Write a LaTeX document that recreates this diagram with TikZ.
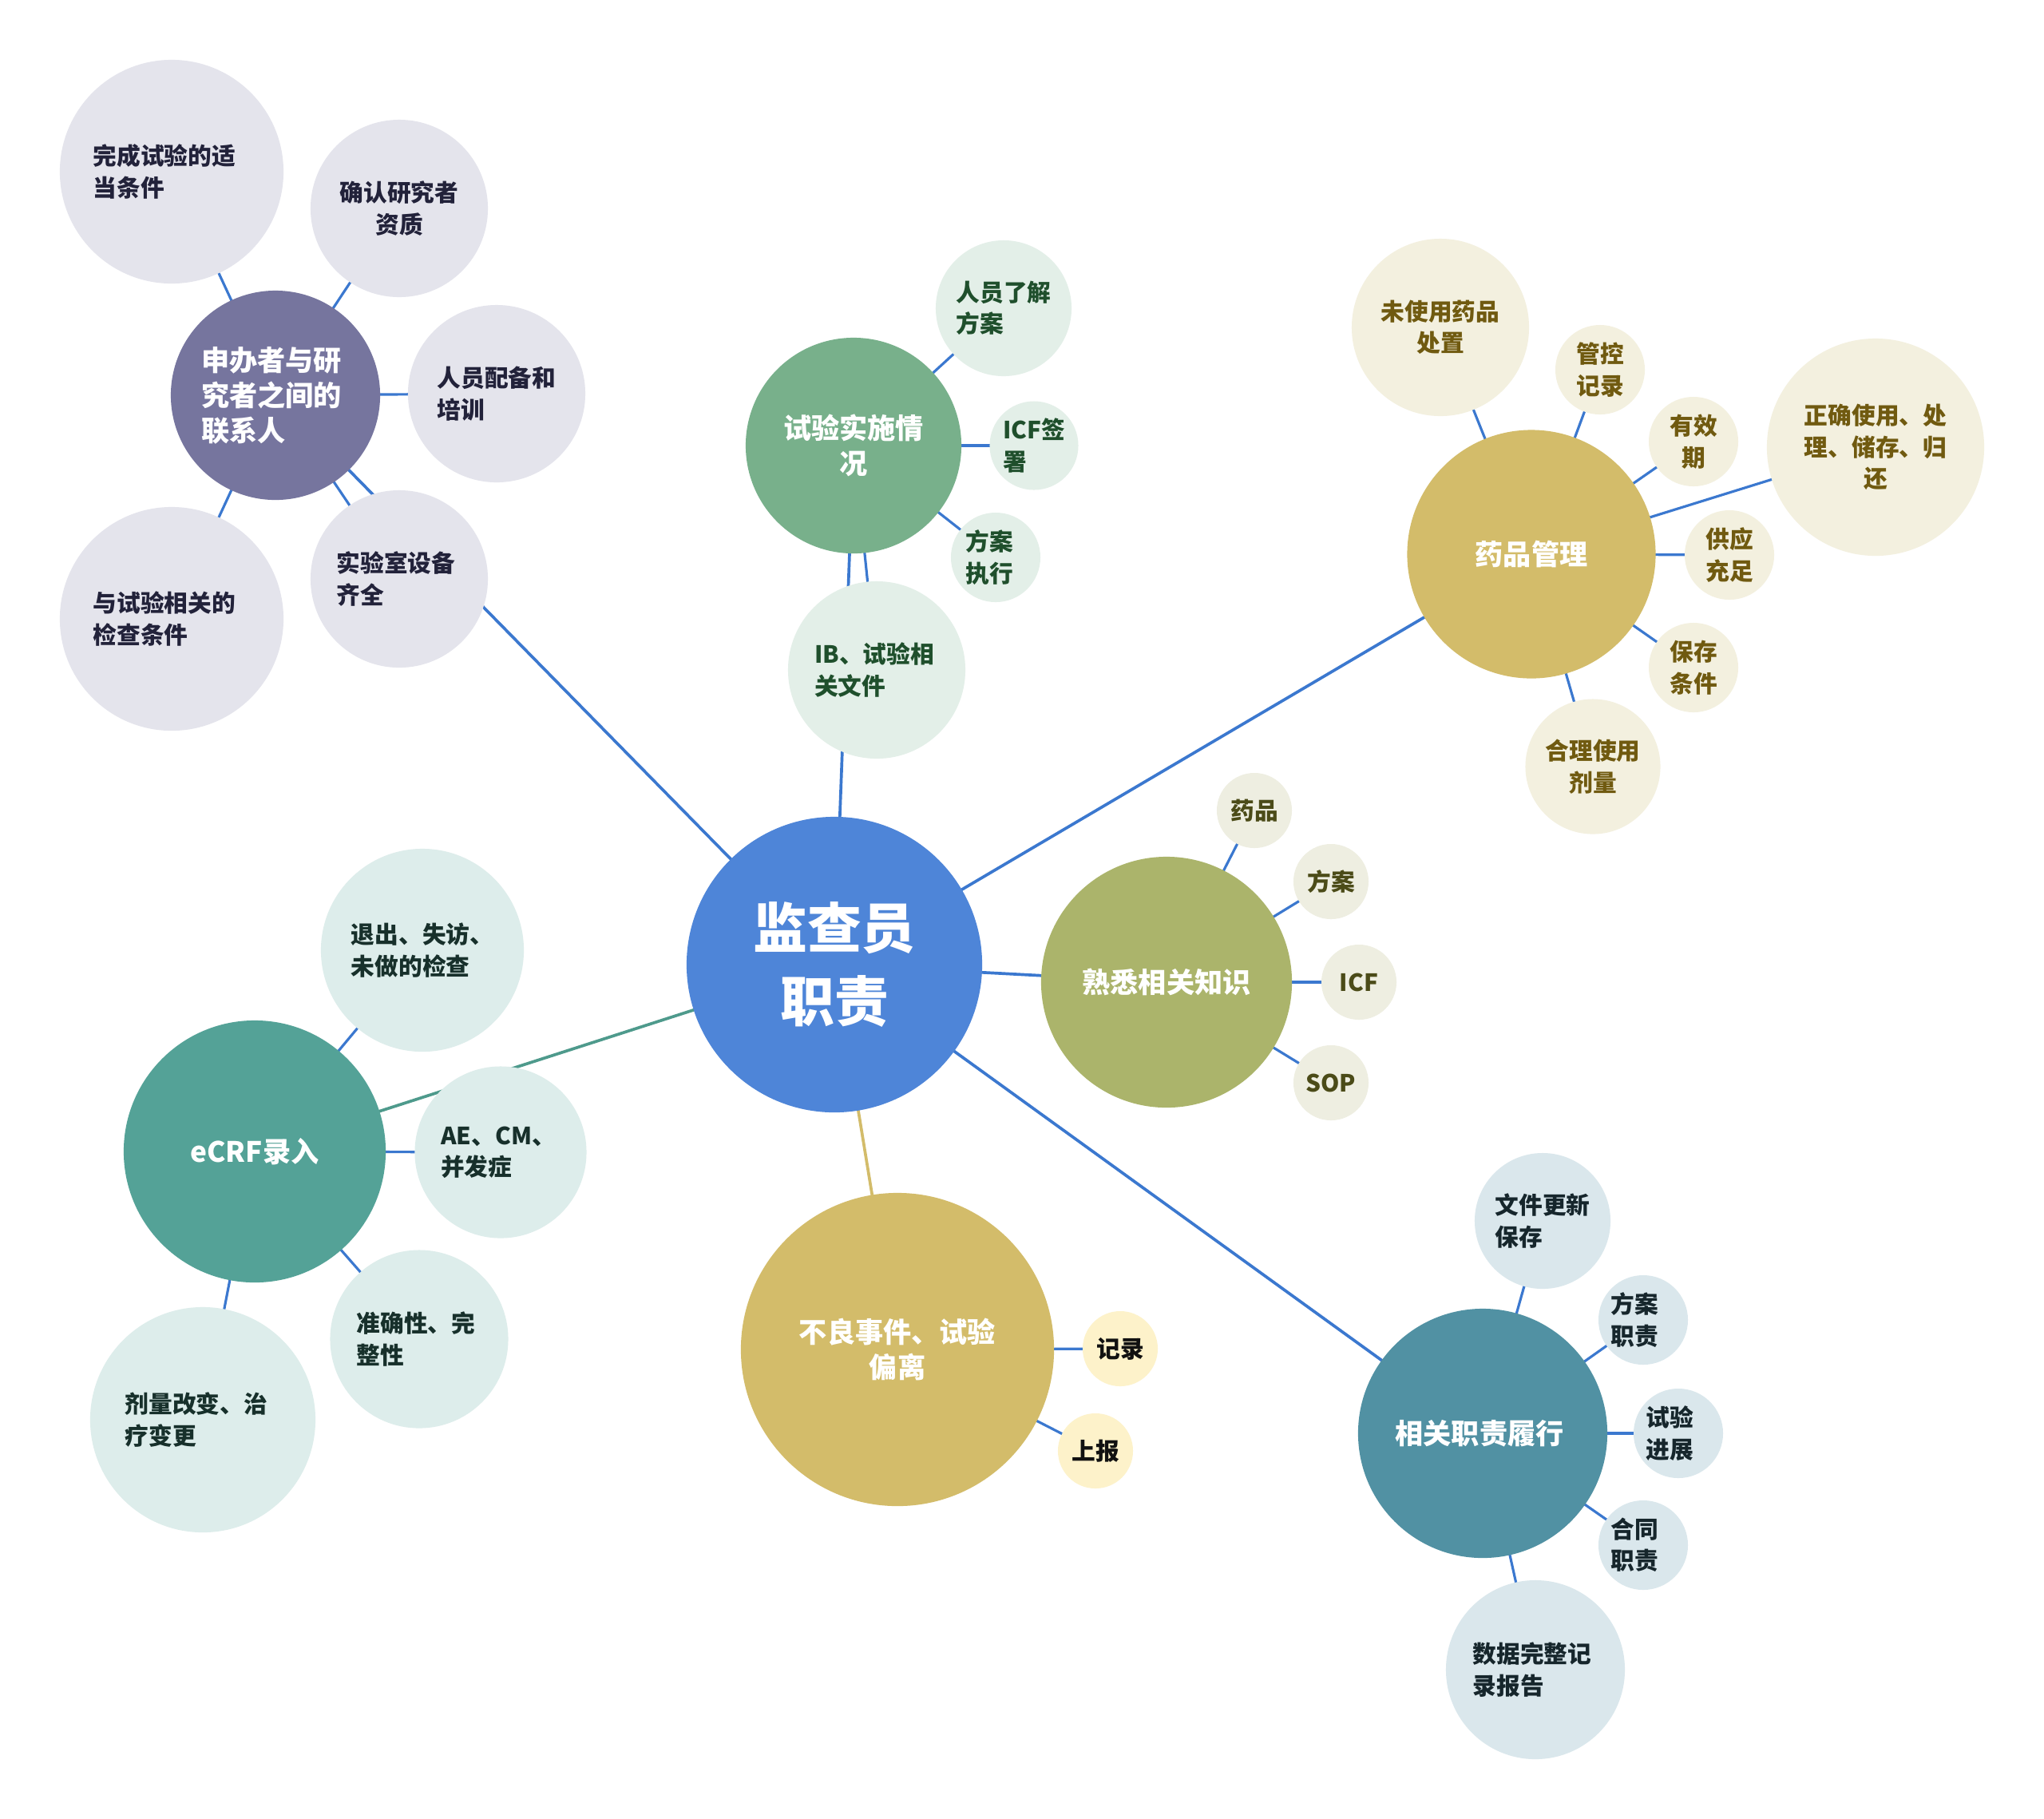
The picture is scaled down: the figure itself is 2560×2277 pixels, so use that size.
\documentclass[tikz,border=0pt]{standalone}
\usepackage{fontspec}
\setmainfont{Noto Sans CJK SC}
\usetikzlibrary{backgrounds}
\definecolor{cen}{HTML}{4E85D8}
\definecolor{pm}{HTML}{76759E}\definecolor{pc}{HTML}{E4E4EC}\definecolor{pt}{HTML}{22223A}
\definecolor{gm}{HTML}{78B08B}\definecolor{gc}{HTML}{E3EFE8}\definecolor{gt}{HTML}{1F4F2C}
\definecolor{dm}{HTML}{D3BC6A}\definecolor{dc}{HTML}{F3F0DF}\definecolor{dt}{HTML}{705A10}
\definecolor{km}{HTML}{ABB46B}\definecolor{kc}{HTML}{EEEEE1}\definecolor{kt}{HTML}{4B4B18}
\definecolor{bm}{HTML}{D3BC6A}\definecolor{bc}{HTML}{FDF2CA}\definecolor{bt}{HTML}{111111}
\definecolor{em}{HTML}{54A297}\definecolor{ec}{HTML}{DDEDEB}\definecolor{et}{HTML}{17302B}
\definecolor{rm}{HTML}{5191A3}\definecolor{rc}{HTML}{DAE7EC}\definecolor{rt}{HTML}{16262C}
\definecolor{ln}{HTML}{3B78CF}\definecolor{eln}{HTML}{4E9A8C}
\begin{document}
\begin{tikzpicture}[x=0.01cm,y=-0.01cm,
  bub/.style={circle,draw=none,inner sep=0pt,minimum size=#1},
  ctx/.style={font=\bfseries\fontsize{8.45}{11.2}\selectfont,inner sep=0pt,align=left},
  ccx/.style={font=\bfseries\fontsize{8.45}{11.2}\selectfont,inner sep=0pt,align=center},
  mtx/.style={font=\bfseries\fontsize{10}{12.5}\selectfont,inner sep=0pt,align=center,text=white},
  mtxl/.style={font=\bfseries\fontsize{10}{12.5}\selectfont,inner sep=0pt,align=left,text=white},
  conn/.style={draw=ln,line width=0.9pt},
  mconn/.style={line width=1.05pt}]
\useasboundingbox (0,0) rectangle (2560,2277);
% central
\node[bub=3.7cm,fill=cen,label={[font=\bfseries\fontsize{19.3}{26.3}\selectfont,inner sep=0pt,align=center,text=white]center:{监查员\\职责}}] (c) at (1045,1208) {};
% purple group
\node[bub=2.62cm,fill=pm,label={[mtxl,xshift=-0.05cm]center:{申办者与研\\究者之间的\\联系人}}] (p) at (345,495) {};
\node[bub=2.8cm,fill=pc,label={[ctx,text=pt,xshift=-0.09cm]center:{完成试验的适\\当条件}}] (p1) at (215,215) {};
\node[bub=2.22cm,fill=pc,label={[ccx,text=pt]center:{确认研究者\\资质}}] (p2) at (500,261) {};
\node[bub=2.22cm,fill=pc,label={[ctx,text=pt]center:{人员配备和\\培训}}] (p3) at (622,493) {};
\node[bub=2.22cm,fill=pc,label={[ctx,text=pt,xshift=-0.04cm]center:{实验室设备\\齐全}}] (p4) at (500,725) {};
\node[bub=2.8cm,fill=pc,label={[ctx,text=pt,xshift=-0.09cm]center:{与试验相关的\\检查条件}}] (p5) at (215,775) {};
% green group
\node[bub=2.7cm,fill=gm,label={[mtx]center:{试验实施情\\况}}] (g) at (1069,558) {};
\node[bub=1.7cm,fill=gc,label={[ctx,text=gt]center:{人员了解\\方案}}] (g1) at (1257,386) {};
\node[bub=1.11cm,fill=gc,label={[ctx,text=gt]center:{ICF签\\署}}] (g2) at (1295,558) {};
\node[bub=1.12cm,fill=gc,label={[ctx,text=gt,xshift=-0.08cm]center:{方案\\执行}}] (g3) at (1247,698) {};
\node[bub=2.22cm,fill=gc,label={[ctx,text=gt,xshift=-0.03cm]center:{IB、试验相\\关文件}}] (g4) at (1098,839) {};
% drug management group
\node[bub=3.11cm,fill=dm,label={[mtx]center:{药品管理}}] (d) at (1918,694) {};
\node[bub=2.22cm,fill=dc,label={[ccx,text=dt]center:{未使用药品\\处置}}] (d1) at (1804,410) {};
\node[bub=1.12cm,fill=dc,label={[ccx,text=dt]center:{管控\\记录}}] (d2) at (2004,463) {};
\node[bub=1.12cm,fill=dc,label={[ccx,text=dt]center:{有效\\期}}] (d3) at (2121,553) {};
\node[bub=2.72cm,fill=dc,label={[ccx,text=dt]center:{正确使用、处\\理、储存、归\\还}}] (d4) at (2349,560) {};
\node[bub=1.12cm,fill=dc,label={[ccx,text=dt]center:{供应\\充足}}] (d5) at (2166,695) {};
\node[bub=1.12cm,fill=dc,label={[ccx,text=dt]center:{保存\\条件}}] (d6) at (2121,836) {};
\node[bub=1.69cm,fill=dc,label={[ccx,text=dt]center:{合理使用\\剂量}}] (d7) at (1995,960) {};
% knowledge group
\node[bub=3.14cm,fill=km,label={[mtx]center:{熟悉相关知识}}] (k) at (1461,1230) {};
\node[bub=0.94cm,fill=kc,label={[ccx,text=kt]center:{药品}}] (k1) at (1571,1015) {};
\node[bub=0.94cm,fill=kc,label={[ccx,text=kt]center:{方案}}] (k2) at (1667,1104) {};
\node[bub=0.94cm,fill=kc,label={[ccx,text=kt]center:{ICF}}] (k3) at (1702,1230) {};
\node[bub=0.94cm,fill=kc,label={[ccx,text=kt]center:{SOP}}] (k4) at (1667,1356) {};
% adverse events group
\node[bub=3.92cm,fill=bm,label={[mtx]center:{不良事件、试验\\偏离}}] (b) at (1124,1690) {};
\node[bub=0.94cm,fill=bc,label={[ccx,text=bt]center:{记录}}] (b1) at (1403,1689) {};
\node[bub=0.94cm,fill=bc,label={[ccx,text=bt]center:{上报}}] (b2) at (1372,1817) {};
% eCRF group
\node[bub=3.28cm,fill=em,label={[mtx]center:{eCRF录入}}] (e) at (319,1442) {};
\node[bub=2.54cm,fill=ec,label={[ctx,text=et]center:{退出、失访、\\未做的检查}}] (e1) at (529,1190) {};
\node[bub=2.15cm,fill=ec,label={[ctx,text=et,xshift=-0.03cm]center:{AE、CM、\\并发症}}] (e2) at (627,1443) {};
\node[bub=2.23cm,fill=ec,label={[ctx,text=et,xshift=-0.04cm]center:{准确性、完\\整性}}] (e3) at (525,1677) {};
\node[bub=2.82cm,fill=ec,label={[ctx,text=et,xshift=-0.08cm]center:{剂量改变、治\\疗变更}}] (e4) at (254,1778) {};
% responsibilities group
\node[bub=3.12cm,fill=rm,label={[mtx,xshift=-0.04cm]center:{相关职责履行}}] (r) at (1857,1795) {};
\node[bub=1.7cm,fill=rc,label={[ctx,text=rt]center:{文件更新\\保存}}] (r1) at (1932,1529) {};
\node[bub=1.12cm,fill=rc,label={[ctx,text=rt,xshift=-0.11cm]center:{方案\\职责}}] (r2) at (2058,1653) {};
\node[bub=1.12cm,fill=rc,label={[ctx,text=rt,xshift=-0.11cm]center:{试验\\进展}}] (r3) at (2102,1795) {};
\node[bub=1.12cm,fill=rc,label={[ctx,text=rt,xshift=-0.11cm]center:{合同\\职责}}] (r4) at (2058,1935) {};
\node[bub=2.24cm,fill=rc,label={[ctx,text=rt,xshift=-0.04cm]center:{数据完整记\\录报告}}] (r5) at (1923,2091) {};
% connectors
\begin{scope}[on background layer]
\fill[white] (0,0) rectangle (2560,2277);
\draw[mconn,draw=ln] (c.center) -- (p.center);
\draw[mconn,draw=ln] (c.center) -- (g.center);
\draw[mconn,draw=ln] (c.center) -- (d.center);
\draw[mconn,draw=ln] (c.center) -- (k.center);
\draw[mconn,draw=bm] (c.center) -- (b.center);
\draw[mconn,draw=eln] (c.center) -- (e.center);
\draw[mconn,draw=ln] (c.center) -- (r.center);
\foreach \a in {p1,p2,p3,p4,p5} \draw[conn] (p.center) -- (\a.center);
\foreach \a in {g1,g2,g3,g4} \draw[conn] (g.center) -- (\a.center);
\foreach \a in {d1,d2,d3,d4,d5,d6,d7} \draw[conn] (d.center) -- (\a.center);
\foreach \a in {k1,k2,k3,k4} \draw[conn] (k.center) -- (\a.center);
\foreach \a in {b1,b2} \draw[conn] (b.center) -- (\a.center);
\foreach \a in {e1,e2,e3,e4} \draw[conn] (e.center) -- (\a.center);
\foreach \a in {r1,r2,r3,r4,r5} \draw[conn] (r.center) -- (\a.center);
\end{scope}
\end{tikzpicture}
\end{document}
